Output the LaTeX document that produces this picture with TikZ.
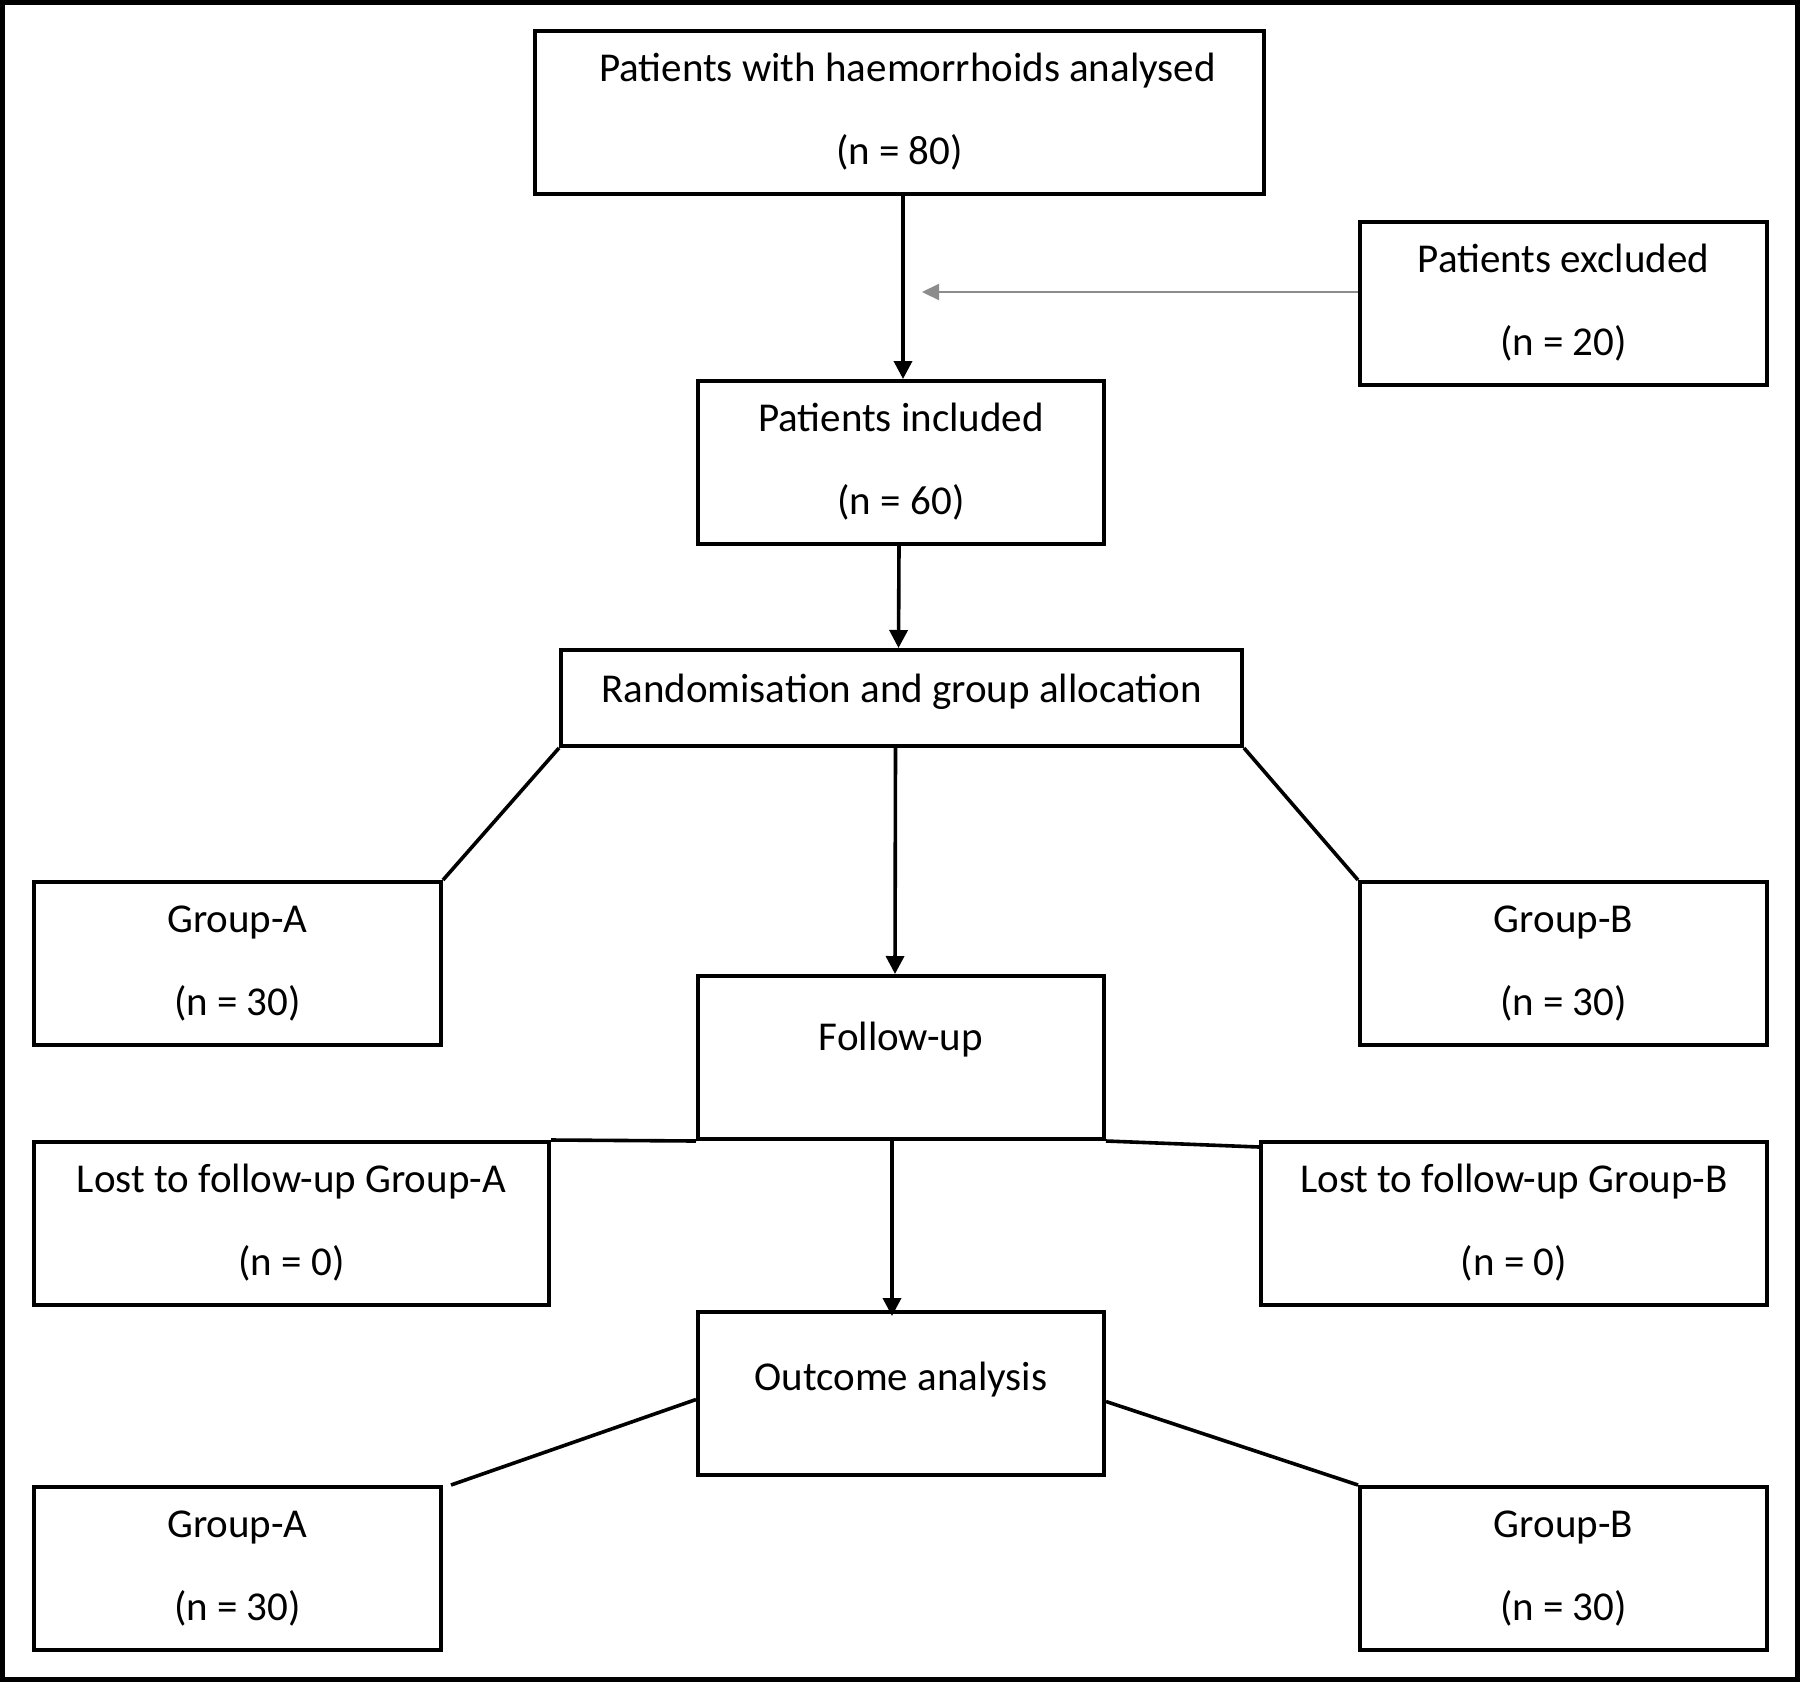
\documentclass[tikz,border=0pt]{standalone}
\usepackage{fontspec}
\setmainfont{Carlito}
\usetikzlibrary{arrows.meta}
\begin{document}
\begin{tikzpicture}[x=0.5pt,y=-0.5pt,
  flowbox/.style={draw, line width=2pt, rectangle, inner sep=0pt},
  txt/.style={font=\fontsize{20.5}{24}\selectfont, inner sep=0pt, text height=14pt, text depth=4pt, yshift=-2.25pt},
  conn/.style={line width=1.8pt},
  arr/.style={conn, -{Triangle[length=9pt,width=9pt]}},
  greyarr/.style={line width=1.1pt, draw={rgb,255:red,140;green,140;blue,140}, -{Triangle[length=8.5pt,width=8pt]}}]
\useasboundingbox (0,0) rectangle (1800,1682);
\draw[line width=2.5pt] (2.5,2.5) rectangle (1797.5,1679.5);

% boxes
\node[flowbox, minimum width=364.5pt, minimum height=81.5pt] (b1) at (899.5,112.5) {};
\node[flowbox, minimum width=203.5pt, minimum height=81.5pt] (excl) at (1563.5,303.5) {};
\node[flowbox, minimum width=203pt, minimum height=81.5pt] (inc) at (901,462.5) {};
\node[flowbox, minimum width=340.5pt, minimum height=48pt] (rand) at (901.5,698) {};
\node[flowbox, minimum width=203.5pt, minimum height=81.5pt] (gA) at (237.5,963.5) {};
\node[flowbox, minimum width=203.5pt, minimum height=81.5pt] (gB) at (1563.5,963.5) {};
\node[flowbox, minimum width=203pt, minimum height=81.5pt] (fol) at (901,1057.5) {};
\node[flowbox, minimum width=257.5pt, minimum height=81.5pt] (lA) at (291.5,1223.5) {};
\node[flowbox, minimum width=253pt, minimum height=81.5pt] (lB) at (1514,1223.5) {};
\node[flowbox, minimum width=203pt, minimum height=81.5pt] (out) at (901,1393.5) {};
\node[flowbox, minimum width=203.5pt, minimum height=81.5pt] (gA2) at (237.5,1568.5) {};
\node[flowbox, minimum width=203.5pt, minimum height=81.5pt] (gB2) at (1563.5,1568.5) {};

% texts
\node[txt] (b1a) at ([yshift=-19pt,xshift=4pt]b1.north) {Patients with haemorrhoids analysed};
\node[txt] (b1b) at ([yshift=-60.5pt]b1.north) {(n = 80)};
\node[txt] (exa) at ([yshift=-19pt]excl.north) {Patients excluded};
\node[txt] (exb) at ([yshift=-60.5pt]excl.north) {(n = 20)};
\node[txt] (inca) at ([yshift=-19pt]inc.north) {Patients included};
\node[txt] (incb) at ([yshift=-60.5pt]inc.north) {(n = 60)};
\node[txt] (randa) at ([yshift=-20pt]rand.north) {Randomisation and group allocation};
\node[txt] (gAa) at ([yshift=-19pt]gA.north) {Group-A};
\node[txt] (gAb) at ([yshift=-60.5pt]gA.north) {(n = 30)};
\node[txt] (gBa) at ([yshift=-19pt]gB.north) {Group-B};
\node[txt] (gBb) at ([yshift=-60.5pt]gB.north) {(n = 30)};
\node[txt] (fola) at ([yshift=-31pt]fol.north) {Follow-up};
\node[txt] (lAa) at ([yshift=-19pt]lA.north) {Lost to follow-up Group-A};
\node[txt] (lAb) at ([yshift=-60.5pt]lA.north) {(n = 0)};
\node[txt] (lBa) at ([yshift=-19pt]lB.north) {Lost to follow-up Group-B};
\node[txt] (lBb) at ([yshift=-60.5pt]lB.north) {(n = 0)};
\node[txt] (outa) at ([yshift=-33pt]out.north) {Outcome analysis};
\node[txt] (gA2a) at ([yshift=-19pt]gA2.north) {Group-A};
\node[txt] (gA2b) at ([yshift=-60.5pt]gA2.north) {(n = 30)};
\node[txt] (gB2a) at ([yshift=-19pt]gB2.north) {Group-B};
\node[txt] (gB2b) at ([yshift=-60.5pt]gB2.north) {(n = 30)};

% connectors
\coordinate (exend) at (922,292);
\draw[arr] ([xshift=1pt]inc.north |- b1.south) -- ([xshift=1pt]inc.north);
\draw[greyarr] ([yshift=5.75pt]excl.west) -- (exend);
\draw[arr] ([xshift=-1pt]inc.south) -- ([xshift=-1.5pt]rand.north);
\draw[arr] ([xshift=-3pt]rand.south) -- ([xshift=-3pt]fol.north);
\draw[arr, shorten >=-3pt] ([xshift=-4.5pt]fol.south) -- ([xshift=-4.5pt]out.north);
\draw[conn] (rand.south west) -- (gA.north east);
\draw[conn] (rand.south east) -- (gB.north west);
\draw[conn] (fol.south west) -- (lA.north east);
\draw[conn] (fol.south east) -- ([yshift=-3.5pt]lB.north west);
\draw[conn] ([yshift=-3pt]out.west) -- ([xshift=4pt]gA2.north east);
\draw[conn] ([yshift=-4pt]out.east) -- (gB2.north west);
\end{tikzpicture}
\end{document}
